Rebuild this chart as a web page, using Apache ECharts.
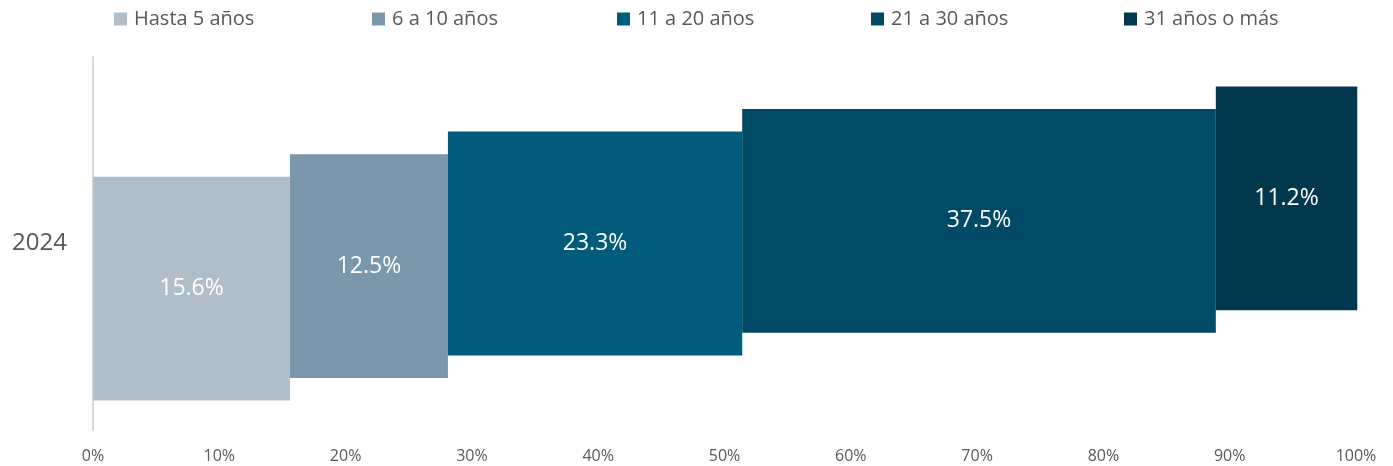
<!DOCTYPE html>
<html><head><meta charset="utf-8">
<script src="https://cdn.jsdelivr.net/npm/echarts@6/dist/echarts.min.js"></script>
<style>html,body{margin:0;padding:0;background:#fff}#c{width:1393px;height:466px}</style>
</head><body><div id="c"></div>
<script>
const categories = ['2024'];
const seriesNames = ['Hasta 5 años', '6 a 10 años', '11 a 20 años', '21 a 30 años', '31 años o más'];
const values = [15.6, 12.5, 23.3, 37.5, 11.2];
const tickLabels = ['0%','10%','20%','30%','40%','50%','60%','70%','80%','90%','100%'];
const colors = ['#b1bfca', '#7a97ab', '#015b7b', '#004a65', '#01384d'];

const FONT = '"Open Sans", "Liberation Sans", sans-serif';
const starts = [];
values.reduce((acc, v, i) => { starts[i] = acc; return acc + v; }, 0);

const series = seriesNames.map((name, i) => ({
  name,
  type: 'custom',
  color: colors[i],
  data: [[starts[i], values[i], 0]],
  encode: { x: [0], y: 2 },
  renderItem: function (params, api) {
    const s = api.value(0), v = api.value(1);
    const band = api.size([0, 1])[1];
    const h = band * 0.6;
    const shift = (i - 2) * band * 0.0605;
    const p0 = api.coord([s, 0]);
    const p1 = api.coord([s + v, 0]);
    const cy = p0[1] - shift;
    return {
      type: 'rect',
      shape: { x: p0[0], y: cy - h / 2, width: p1[0] - p0[0], height: h },
      style: { fill: colors[i] },
      textContent: {
        style: { text: v.toFixed(1) + '%', fill: '#ffffff', fontSize: 23, fontFamily: FONT }
      },
      textConfig: { position: 'inside' }
    };
  }
}));

const legendLefts = [109, 367, 612, 866, 1119];
const legends = seriesNames.map((name, i) => ({
  top: 4, left: legendLefts[i],
  itemWidth: 13, itemHeight: 13,
  icon: 'rect',
  textStyle: { fontSize: 20, color: '#595959', fontFamily: FONT, padding: [0, 0, 0, 2] },
  data: [name]
}));

const chart = echarts.init(document.getElementById('c'));
chart.setOption({
  animation: false,
  color: colors,
  legend: legends,
  grid: { left: 93, right: 37, top: 57, bottom: 36 },
  xAxis: {
    type: 'value', min: 0, max: 100, interval: 10,
    axisLine: { show: false }, axisTick: { show: false }, splitLine: { show: false },
    axisLabel: { formatter: (v) => tickLabels[Math.round(v / 10)], fontSize: 16, color: '#595959', fontFamily: FONT, margin: 18 }
  },
  yAxis: {
    type: 'category', data: categories,
    axisLine: { show: true, lineStyle: { color: '#d9d9d9', width: 2 } },
    axisTick: { show: false },
    axisLabel: { fontSize: 24, color: '#595959', fontFamily: FONT, margin: 26 }
  },
  series
});
</script></body></html>
